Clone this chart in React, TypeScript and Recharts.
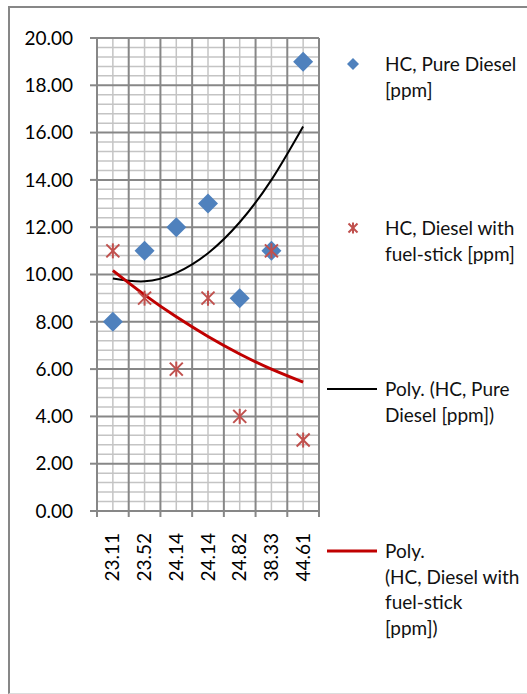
import { CartesianGrid, ComposedChart, Line, Scatter, XAxis, YAxis } from "recharts";

// Engine load points (x axis) and HC readings for both fuels
const categories = ["23.11", "23.52", "24.14", "24.14", "24.82", "38.33", "44.61"];
const pureDiesel = [8, 11, 12, 13, 9, 11, 19];
const fuelStick = [11, 9, 6, 9, 4, 11, 3];
// 2nd order polynomial trendlines, sampled at each category
const pureTrend = [9.83, 9.71, 10.07, 10.9, 12.21, 14.0, 16.26];
const fuelTrend = [10.17, 9.14, 8.21, 7.38, 6.64, 6.0, 5.45];
const yTicks = [0, 2, 4, 6, 8, 10, 12, 14, 16, 18, 20];

const data = categories.map((label, i) => ({
  idx: i + 1,
  label,
  pure: pureDiesel[i],
  fuel: fuelStick[i],
  pureFit: pureTrend[i],
  fuelFit: fuelTrend[i],
}));

const FONT = "Lato, 'Open Sans', sans-serif";
const MAJOR = "#878787";
const MINOR = "#c4c4c4";
const BLUE = "#4F81BD";
const RED = "#C0504D";
const TREND_RED = "#C00000";

// minor lines every 0.4 between the major ones; vertical minors at category centres
const minorY = Array.from({ length: 51 }, (_, i) => i)
  .filter((i) => i % 5 !== 0)
  .map((i) => Math.round(i * 4) / 10);
const minorX = categories.map((_, i) => i + 1);
const majorX = Array.from({ length: categories.length + 1 }, (_, i) => i + 0.5);
const xTicks = [...majorX, ...minorX].sort((a, b) => a - b);

function Diamond({ cx, cy, r = 10 }: { cx: number; cy: number; r?: number }) {
  return (
    <path
      d={`M${cx},${cy - r}L${cx + r},${cy}L${cx},${cy + r}L${cx - r},${cy}Z`}
      fill={BLUE}
    />
  );
}

function Star({ cx, cy, r = 6.5 }: { cx: number; cy: number; r?: number }) {
  return (
    <g stroke={RED} strokeWidth={2}>
      <line x1={cx - r} y1={cy - r} x2={cx + r} y2={cy + r} />
      <line x1={cx - r} y1={cy + r} x2={cx + r} y2={cy - r} />
      <line x1={cx} y1={cy - r - 1} x2={cx} y2={cy + r + 1} />
    </g>
  );
}

function CategoryTick(props: any) {
  const { x, y, payload } = props;
  const v = payload.value as number;
  if (Number.isInteger(v)) {
    const ty = y + 22;
    return (
      <text
        x={x}
        y={ty}
        transform={`rotate(-90 ${x} ${ty})`}
        textAnchor="end"
        dy="0.35em"
        fontSize={19}
        fontFamily={FONT}
        fill="#000"
      >
        {categories[v - 1]}
      </text>
    );
  }
  return <line x1={x} y1={y} x2={x} y2={y + 6} stroke={MAJOR} strokeWidth={2} />;
}

const legendText: React.CSSProperties = {
  position: "absolute",
  left: 375,
  fontFamily: FONT,
  fontSize: 19,
  lineHeight: "25.5px",
  color: "#111",
  whiteSpace: "nowrap",
};

function LegendPanel() {
  return (
    <>
      <svg
        width={200}
        height={600}
        style={{ position: "absolute", left: 310, top: 0, overflow: "visible" }}
      >
        <Diamond cx={33} cy={56} r={6} />
        <Star cx={33} cy={220} r={4.5} />
        <line x1={7} y1={381} x2={57} y2={381} stroke="#000" strokeWidth={2} />
        <line x1={7} y1={543} x2={57} y2={543} stroke={TREND_RED} strokeWidth={3} />
      </svg>
      <div style={{ ...legendText, top: 43 }}>
        HC, Pure Diesel
        <br />
        [ppm]
      </div>
      <div style={{ ...legendText, top: 207 }}>
        HC, Diesel with
        <br />
        fuel-stick [ppm]
      </div>
      <div style={{ ...legendText, top: 368 }}>
        Poly. (HC, Pure
        <br />
        Diesel [ppm])
      </div>
      <div style={{ ...legendText, top: 530 }}>
        Poly.
        <br />
        (HC, Diesel with
        <br />
        fuel-stick
        <br />
        [ppm])
      </div>
    </>
  );
}

export default function App() {
  return (
    <div
      style={{
        position: "absolute",
        left: 8,
        top: 6,
        width: 519,
        height: 685,
        borderTop: `2px solid ${MAJOR}`,
        borderLeft: `2px solid ${MAJOR}`,
        borderBottom: "1px solid #dcdcdc",
        background: "#fff",
        overflow: "hidden",
      }}
    >
      <ComposedChart
        width={311}
        height={593}
        data={data}
        margin={{ top: 30, right: 2, bottom: 0, left: 0 }}
      >
        <CartesianGrid
          horizontalValues={minorY}
          verticalValues={minorX}
          stroke={MINOR}
          strokeWidth={1.5}
        />
        <CartesianGrid
          horizontalValues={yTicks}
          verticalValues={majorX}
          stroke={MAJOR}
          strokeWidth={2}
        />
        <XAxis
          dataKey="idx"
          type="number"
          domain={[0.5, 7.5]}
          ticks={xTicks}
          interval={0}
          tickLine={false}
          tickSize={0}
          tickMargin={0}
          height={90}
          axisLine={{ stroke: MAJOR, strokeWidth: 2 }}
          tick={(p: any) => <CategoryTick {...p} />}
        />
        <YAxis
          type="number"
          domain={[0, 20]}
          ticks={yTicks}
          interval={0}
          width={87}
          tickSize={7}
          tickMargin={17}
          tickFormatter={(v: number) => v.toFixed(2)}
          tick={{ fontSize: 19, fontFamily: FONT, fill: "#000" }}
          tickLine={{ stroke: MAJOR, strokeWidth: 2 }}
          axisLine={{ stroke: MAJOR, strokeWidth: 2 }}
        />
        <Line
          type="natural"
          dataKey="pureFit"
          stroke="#000"
          strokeWidth={2}
          dot={false}
          activeDot={false}
          isAnimationActive={false}
        />
        <Line
          type="natural"
          dataKey="fuelFit"
          stroke={TREND_RED}
          strokeWidth={3}
          dot={false}
          activeDot={false}
          isAnimationActive={false}
        />
        <Scatter
          dataKey="pure"
          isAnimationActive={false}
          shape={(p: any) => <Diamond cx={p.cx} cy={p.cy} />}
        />
        <Scatter
          dataKey="fuel"
          isAnimationActive={false}
          shape={(p: any) => <Star cx={p.cx} cy={p.cy} />}
        />
      </ComposedChart>
      <LegendPanel />
    </div>
  );
}
